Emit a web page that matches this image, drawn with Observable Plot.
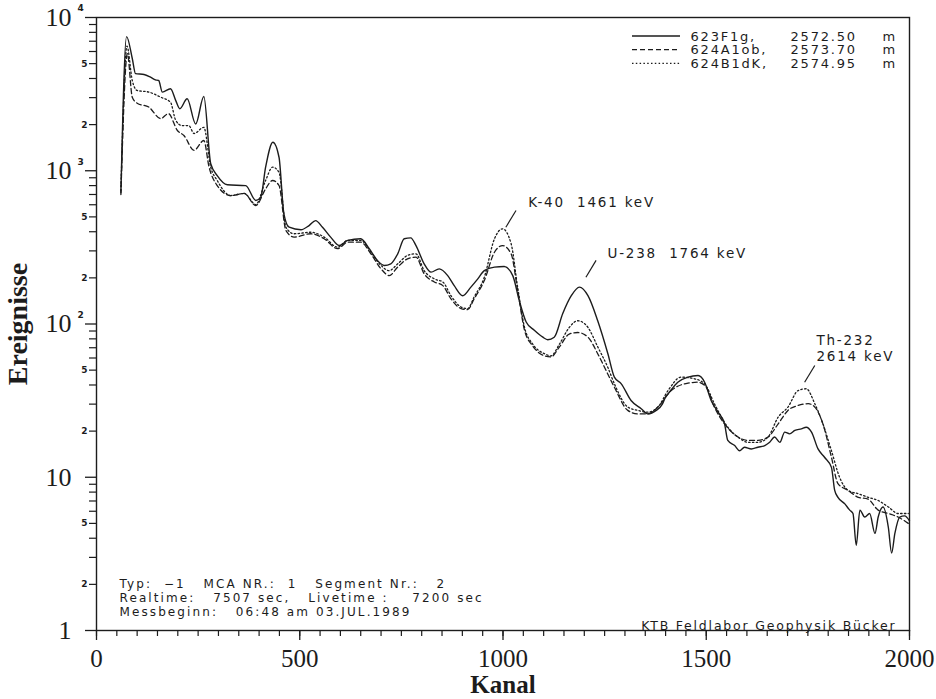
<!DOCTYPE html>
<html>
<head>
<meta charset="utf-8">
<script src="https://cdn.jsdelivr.net/npm/d3@7"></script>
<script src="https://cdn.jsdelivr.net/npm/@observablehq/plot@0.6"></script>
<style>
  html, body { margin: 0; padding: 0; background: #fff; }
  svg text { white-space: pre; }
  /* wide plotter lettering */
  g[font-family*="Liberation Sans"] text { letter-spacing: 1.8px; }
  g[font-family*="Liberation Sans"].info text { letter-spacing: 2.1px; }
</style>
</head>
<body>
<div id="chart"></div>
<script>
// Gamma spectra: [Kanal, Ereignisse]
const spectrum623F1g = [
  [60,720],[74,7500],[88,5400],[96,4300],[117,4250],[133,4080],[145,3920],[153,3880],[162,3260],[182,3430],
  [195,2870],[205,2540],[223,2950],[244,2020],[264,3050],[281,1110],[297,930],[322,810],[367,800],[392,640],
  [404,670],[416,1055],[434,1536],[449,1225],[461,524],[474,428],[503,412],[523,439],[539,473],[556,428],
  [576,369],[597,325],[618,351],[650,360],[671,310],[691,260],[708,241],[724,247],[741,287],[757,360],
  [773,365],[786,325],[806,247],[823,218],[843,229],[864,207],[880,178],[901,153],[921,174],[938,197],
  [954,223],[979,235],[1003,237],[1024,207],[1040,142],[1057,103],[1077,91],[1098,82],[1110,79],[1126,82],
  [1147,117],[1168,153],[1188,174],[1209,153],[1233,105],[1258,64],[1274,45],[1291,40.7],[1315,31.7],[1340,28],
  [1356,25.9],[1377,27.3],[1392,30],[1400,33.5],[1406,35],[1430,41.7],[1455,45],[1480,46.1],[1496,41.7],[1512,31.7],
  [1529,26.6],[1545,22.3],[1553,17.4],[1570,16.1],[1582,14.9],[1594,15.7],[1611,15.3],[1627,15.7],[1644,16.1],
  [1656,16.9],[1668,18.3],[1681,16.9],[1693,19.7],[1705,19.2],[1718,20.2],[1734,20.7],[1746,21.2],[1759,19.7],
  [1775,15.3],[1791,13.5],[1808,11.6],[1816,8.2],[1824,7.4],[1841,6.7],[1853,6.1],[1861,5.8],[1869,3.6],
  [1878,6.1],[1890,5.5],[1902,5.8],[1915,4.3],[1923,5.5],[1935,6.4],[1948,4.7],[1956,3.2],[1964,4.3],
  [1976,5.5],[1988,5.6],[2000,5.2]
];
const spectrum624A1ob = [
  [60,700],[76,5800],[88,3020],[100,2760],[129,2600],[158,2190],[177,2360],[199,1830],[215,1700],[240,1360],
  [264,1575],[277,1055],[297,801],[330,689],[363,711],[392,593],[416,762],[433,864],[449,801],[466,407],
  [486,369],[527,388],[560,360],[593,310],[618,342],[650,342],[675,287],[700,229],[720,207],[741,235],
  [765,266],[786,273],[806,213],[831,188],[852,178],[872,146],[897,126],[913,124],[929,146],[954,192],
  [979,294],[999,325],[1020,287],[1036,166],[1053,91],[1073,72],[1102,62],[1118,61],[1139,71],[1163,86],
  [1184,88],[1209,82],[1233,64],[1258,47],[1274,38.7],[1307,27.3],[1332,25.9],[1356,25.9],[1381,28.7],[1414,36.8],
  [1447,40.7],[1480,41.7],[1500,38.7],[1520,28.7],[1545,22.3],[1578,18.3],[1603,17.4],[1627,17.4],[1652,18.3],
  [1677,22.3],[1701,27.3],[1726,29.4],[1751,30.2],[1767,28.7],[1787,22.3],[1808,13.5],[1824,9.1],[1849,8.2],
  [1874,7.4],[1898,7.2],[1923,6.1],[1948,5.8],[1972,5.5],[1997,5.0]
];
const spectrum624B1dK = [
  [60,740],[75,6500],[88,3880],[100,3340],[129,3260],[158,3020],[182,2800],[195,2130],[211,1970],[227,1970],
  [240,1750],[264,1920],[281,1055],[297,864],[330,689],[363,711],[392,602],[416,864],[433,1055],[449,979],
  [466,428],[486,388],[527,397],[560,369],[593,317],[618,351],[650,351],[675,294],[700,241],[720,223],
  [741,247],[765,280],[786,287],[806,223],[831,197],[852,188],[872,153],[897,129],[913,126],[929,150],
  [954,202],[979,360],[999,418],[1020,334],[1036,174],[1053,95],[1073,74],[1102,64],[1118,62],[1139,74],
  [1163,95],[1184,105],[1209,95],[1233,71],[1258,52],[1274,40.7],[1307,28.7],[1332,27.3],[1356,26.6],[1381,28.7],
  [1406,36.8],[1438,45],[1471,43.9],[1496,40.7],[1520,30.2],[1553,21.2],[1578,18.3],[1603,16.9],[1627,16.9],
  [1652,18.3],[1677,24.7],[1701,28.7],[1726,36.8],[1746,37.8],[1767,30.2],[1787,22.3],[1808,14.9],[1828,10],
  [1849,8.2],[1874,7.8],[1898,7.4],[1923,7.05],[1948,6.4],[1972,5.8],[1997,5.8]
];

const sampleNames = ["623F1g,", "624A1ob,", "624B1dK,"];
const sampleDepths = ["2572.50", "2573.70", "2574.95"];
const sampleDash = [null, "5,3", "1.5,2.3"];

const xMajorTicks = [0, 500, 1000, 1500, 2000];
const xMinorTicks = d3.range(0, 2001, 50);
const yDecades = [1, 10, 100, 1000, 10000];
const yMinorTicks = yDecades.slice(0, 4).flatMap(d => d3.range(2, 10).map(m => m * d));
const yMinorLabelled = yDecades.slice(0, 4).flatMap(d => [2 * d, 5 * d]);

// Peak annotations: leader from (k1, n1) to (k2, n2), label at (kt, nt)
const peaks = [
  {text: "K-40  1461 keV", k1: 1007, n1: 428, k2: 1032, n2: 550, kt: 1062, nt: 625},
  {text: "U-238  1764 keV", k1: 1204, n1: 202, k2: 1229, n2: 260, kt: 1257, nt: 293},
  {text: "Th-232\n2614 keV", k1: 1742, n1: 41.7, k2: 1767, n2: 53.6, kt: 1771, nt: 70}
];

const infoLines = [
  "Typ:  −1   MCA NR.:  1   Segment Nr.:   2",
  "Realtime:   7507 sec,   Livetime :    7200 sec",
  "Messbeginn:   06:48 am 03.JUL.1989"
];
const credit = "KTB Feldlabor Geophysik Bücker";

const ink = "#1c1c1c";
const serif = "'Liberation Serif', 'DejaVu Serif', serif";
const plotter = {fontFamily: "'DejaVu Sans', 'Liberation Sans', sans-serif", fill: ink};
const small = {fontFamily: "'DejaVu Sans', sans-serif", fill: ink};

const legendRow0 = 19, legendStep = 13.7;
const legendMarks = sampleNames.flatMap((name, i) => [
  Plot.text([name], {frameAnchor: "top-right", dx: -219, dy: legendRow0 + i * legendStep, textAnchor: "start",
    lineAnchor: "middle", fontSize: 13, ...plotter}),
  Plot.text([sampleDepths[i]], {frameAnchor: "top-right", dx: -119, dy: legendRow0 + i * legendStep, textAnchor: "start",
    lineAnchor: "middle", fontSize: 13, ...plotter}),
  Plot.text(["m"], {frameAnchor: "top-right", dx: -27, dy: legendRow0 + i * legendStep, textAnchor: "start",
    lineAnchor: "middle", fontSize: 13, ...small})
]);

const plot = Plot.plot({
  width: 936,
  height: 699,
  marginLeft: 96,
  marginRight: 27,
  marginTop: 17,
  marginBottom: 69,
  style: {background: "#fff", color: ink, fontFamily: "'DejaVu Sans', sans-serif"},
  x: {domain: [0, 2000], axis: null},
  y: {type: "log", domain: [1, 10000], axis: null},
  marks: [
    Plot.frame({stroke: ink, strokeWidth: 1.4}),
    // x axis
    Plot.axisX(xMinorTicks, {tickSize: 6, tickFormat: () => "", strokeWidth: 1.2, label: null}),
    Plot.axisX(xMajorTicks, {tickSize: 10, tickPadding: 9, fontSize: 25, fontFamily: serif, strokeWidth: 1.3,
      tickFormat: d => String(d), label: null}),
    // y axis
    Plot.axisY(yMinorTicks, {tickSize: 7, tickFormat: () => "", strokeWidth: 1.2, label: null}),
    Plot.axisY(yDecades, {tickSize: 11, tickFormat: () => "", strokeWidth: 1.3, label: null}),
    Plot.text(yMinorLabelled, {frameAnchor: "left", y: d => d, dx: -9, textAnchor: "end", fontSize: 9,
      fontWeight: "bold", ...small, text: d => String(Math.round(d / 10 ** Math.floor(Math.log10(d) + 1e-9)))}),
    Plot.text(yDecades, {frameAnchor: "left", y: d => d, dx: -25, textAnchor: "end", fontSize: 26,
      fontFamily: serif, fill: ink, text: d => d >= 10 ? "10" : "1"}),
    Plot.text(yDecades.filter(d => d >= 100), {frameAnchor: "left", y: d => d, dx: -19, dy: -9,
      textAnchor: "start", fontSize: 9, fontWeight: "bold", ...small, text: d => String(Math.round(Math.log10(d)))}),
    // axis titles
    Plot.text(["Kanal"], {frameAnchor: "bottom", dy: 62, textAnchor: "middle", fontSize: 25, fontFamily: serif,
      fontWeight: "bold", fill: ink}),
    Plot.text(["Ereignisse"], {frameAnchor: "left", rotate: -90, dx: -78, textAnchor: "middle", fontSize: 28,
      fontFamily: serif, fontWeight: "bold", fill: ink}),
    // spectra
    Plot.line(spectrum624B1dK, {x: d => d[0], y: d => d[1], curve: "monotone-x", stroke: ink, strokeWidth: 1.3,
      strokeDasharray: sampleDash[2]}),
    Plot.line(spectrum624A1ob, {x: d => d[0], y: d => d[1], curve: "monotone-x", stroke: ink, strokeWidth: 1.3,
      strokeDasharray: sampleDash[1]}),
    Plot.line(spectrum623F1g, {x: d => d[0], y: d => d[1], curve: "monotone-x", stroke: ink, strokeWidth: 1.4}),
    // peak annotations
    Plot.link(peaks, {x1: "k1", y1: "n1", x2: "k2", y2: "n2", stroke: ink, strokeWidth: 1.2}),
    Plot.text(peaks, {x: "kt", y: "nt", text: "text", textAnchor: "start", fontSize: 13.5, lineHeight: 1.2, ...plotter}),
    // measurement info
    Plot.text([infoLines.join("\n")], {frameAnchor: "bottom-left", dx: 23, dy: -15, textAnchor: "start",
      lineAnchor: "bottom", lineHeight: 1.15, fontSize: 12, ...plotter, className: "info"}),
    Plot.text([credit], {frameAnchor: "bottom-right", dx: -13, dy: -1, textAnchor: "end", lineAnchor: "bottom",
      fontSize: 12.5, ...plotter}),
    ...legendMarks
  ]
});

// legend line samples, one per spectrum
const svg = d3.select(plot);
const frameRight = 936 - 27;
sampleDash.forEach((dash, i) => {
  const y = 17 + legendRow0 + i * legendStep;
  svg.append("line")
    .attr("x1", frameRight - 277).attr("x2", frameRight - 229)
    .attr("y1", y).attr("y2", y)
    .attr("stroke", ink).attr("stroke-width", i === 0 ? 1.4 : 1.3)
    .attr("stroke-dasharray", dash);
});

document.getElementById("chart").appendChild(plot);
</script>
</body>
</html>
